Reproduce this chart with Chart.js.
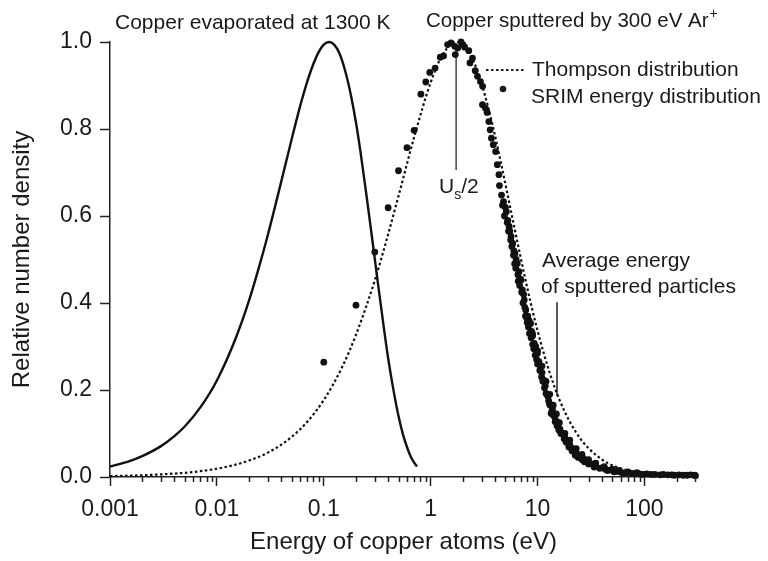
<!DOCTYPE html>
<html>
<head>
<meta charset="utf-8">
<script src="https://cdn.jsdelivr.net/npm/chart.js@4.4.1/dist/chart.umd.min.js"></script>
<style>
  html, body { margin: 0; padding: 0; background: #fff; }
  canvas { display: block; }
</style>
</head>
<body>
<canvas id="chart" width="768" height="561"></canvas>
<script>
// axis ticks
const xTickValues = [0.001, 0.01, 0.1, 1, 10, 100];
const xTickLabels = ['0.001', '0.01', '0.1', '1', '10', '100'];
const yTickValues = [0, 0.2, 0.4, 0.6, 0.8, 1.0];
const yTickLabels = ['0.0', '0.2', '0.4', '0.6', '0.8', '1.0'];

// Copper evaporated at 1300 K (solid line)
const evapEnergy = [0.001, 0.0015, 0.002, 0.003, 0.004, 0.005, 0.007, 0.01, 0.015, 0.02, 0.025, 0.03, 0.04, 0.05,
  0.06, 0.07, 0.08, 0.09, 0.1, 0.112, 0.125, 0.14, 0.16, 0.18, 0.2, 0.22, 0.25, 0.28, 0.32, 0.36, 0.4, 0.45,
  0.5, 0.55, 0.6, 0.65, 0.7, 0.745];
const evapDensity = [0.024, 0.036, 0.048, 0.071, 0.094, 0.116, 0.16, 0.222, 0.319, 0.406, 0.486, 0.557, 0.679, 0.776,
  0.852, 0.909, 0.95, 0.978, 0.994, 1.0, 0.994, 0.974, 0.93, 0.876, 0.815, 0.749, 0.65, 0.558, 0.448, 0.353, 0.273, 0.198,
  0.14, 0.098, 0.069, 0.047, 0.033, 0.024];

// Thompson distribution (dotted line)
const thompsonEnergy = [0.001, 0.002, 0.003, 0.005, 0.007, 0.01, 0.015, 0.02, 0.03, 0.05, 0.07, 0.1, 0.15, 0.2, 0.3,
  0.4, 0.5, 0.7, 1.0, 1.3, 1.75, 2.2, 2.7, 3.5, 4.5, 6, 8, 10, 13, 16, 20, 25, 30, 40, 50, 70, 100, 150, 200, 300];
const thompsonDensity = [0.002, 0.004, 0.006, 0.0096, 0.0134, 0.019, 0.0285, 0.038, 0.056, 0.092, 0.127, 0.177, 0.255,
  0.327, 0.452, 0.558, 0.646, 0.781, 0.907, 0.972, 1.0, 0.982, 0.937, 0.844, 0.727, 0.579, 0.435, 0.336, 0.239, 0.178,
  0.127, 0.089, 0.066, 0.040, 0.027, 0.0146, 0.0075, 0.0034, 0.002, 0.0009];

// SRIM energy distribution (dots), read point by point
const srimEnergy = [
  0.1, 0.2, 0.3, 0.4, 0.5, 0.6, 0.7, 0.81, 0.9, 0.98, 1.1, 1.23, 1.32, 1.44, 1.55, 1.68, 1.7, 1.79,
  1.92, 2.0, 2.08, 2.27, 2.33, 2.46, 2.61, 2.74, 2.92, 3.06, 3.05, 3.25, 3.37, 3.5, 3.6, 3.7, 3.85, 4.05, 4.2, 4.35,
  4.6, 4.8, 5.0, 5.1, 5.27, 5.42, 5.5, 5.65, 5.86, 6.0, 6.15, 6.3, 6.46, 6.7, 6.9, 7.0, 7.2, 7.4, 7.5, 7.75, 7.95,
  8.1, 8.3, 8.6, 8.8, 8.95, 9.3, 9.6, 9.95, 10.3, 10.7, 11.0, 11.4, 11.8, 12.0, 12.5, 12.9, 13.4, 13.8, 14.2, 14.6,
  15.2, 15.8, 16.5, 17.7, 18.5, 19.6, 21, 22.5, 24, 26, 27.4, 30, 33.8, 38, 45, 52, 63, 75, 97, 125, 165, 210, 250, 294,
  4.4, 4.7, 4.9, 5.2, 5.35, 5.6, 5.75, 5.95, 6.1, 6.25, 6.55, 6.6, 6.8, 7.1, 7.3, 7.6, 7.7, 8.0, 8.2, 8.4,
  8.7, 9.0, 9.2, 9.5, 9.8, 10.0, 10.5, 10.9, 11.2, 11.6, 12.2, 12.7, 13.1, 13.6, 14.0, 14.8, 15.5, 16.2, 17.0, 18.0,
  19.0, 20.0, 21.5, 23.0, 25, 27, 29, 32, 35, 40, 43, 48, 55, 60, 68, 80, 90, 105, 115, 140,
  150, 180, 190, 230, 270, 300,
  9.0, 10.0, 11.0, 12.0, 13.0, 14.0, 15.0, 16.0, 18, 20, 23, 26, 30, 35, 42, 50, 58, 70, 85];
const srimDensity = [
  0.264, 0.395, 0.517, 0.619, 0.704, 0.757, 0.797, 0.88, 0.908, 0.93, 0.94, 0.965, 0.968, 0.994, 0.998, 0.99, 0.971, 0.986,
  1.0, 0.994, 0.988, 0.98, 0.952, 0.963, 0.934, 0.921, 0.909, 0.898, 0.856, 0.848, 0.838, 0.817, 0.798, 0.779, 0.764, 0.748, 0.718, 0.695,
  0.648, 0.633, 0.62, 0.61, 0.59, 0.576, 0.565, 0.553, 0.537, 0.52, 0.514, 0.5, 0.491, 0.472, 0.455, 0.453, 0.43, 0.42, 0.407, 0.384, 0.365,
  0.37, 0.36, 0.353, 0.335, 0.33, 0.307, 0.3, 0.284, 0.265, 0.253, 0.24, 0.223, 0.21, 0.192, 0.185, 0.169, 0.146, 0.155, 0.14, 0.127,
  0.118, 0.108, 0.1, 0.088, 0.08, 0.069, 0.06, 0.05, 0.045, 0.04, 0.035, 0.03, 0.023, 0.02, 0.015, 0.012, 0.009, 0.008, 0.006, 0.006, 0.005, 0.005, 0.004, 0.004,
  0.67, 0.625, 0.6, 0.585, 0.565, 0.545, 0.53, 0.51, 0.49, 0.48, 0.465, 0.45, 0.44, 0.425, 0.4, 0.39, 0.37, 0.355, 0.345, 0.33,
  0.32, 0.305, 0.295, 0.28, 0.27, 0.26, 0.245, 0.23, 0.22, 0.205, 0.19, 0.175, 0.165, 0.15, 0.145, 0.13, 0.12, 0.11, 0.1, 0.09,
  0.082, 0.075, 0.065, 0.055, 0.048, 0.042, 0.036, 0.03, 0.026, 0.021, 0.018, 0.016, 0.013, 0.011, 0.01, 0.008, 0.007, 0.007, 0.006, 0.005,
  0.006, 0.005, 0.004, 0.004, 0.005, 0.003,
  0.325, 0.29, 0.255, 0.22, 0.19, 0.165, 0.145, 0.125, 0.1, 0.085, 0.065, 0.052, 0.04, 0.032, 0.024, 0.018, 0.015, 0.012, 0.01];

// marker lines: Us/2 and average energy
const usHalfEnergy = [1.73, 1.73];
const usHalfDensity = [0.706, 0.985];
const avgEnergy = [15.2, 15.2];
const avgDensity = [0.186, 0.402];

function pts(xs, ys) {
  return xs.map((x, i) => ({ x: x, y: ys[i] }));
}

const FONT = "'Liberation Sans', Arial, Helvetica, sans-serif";
Chart.defaults.font.family = FONT;
Chart.defaults.color = '#1a1a1a';

// short minor ticks on the log axis
const minorTicks = {
  id: 'minorTicks',
  afterDraw(chart) {
    const sc = chart.scales.x;
    const ctx = chart.ctx;
    ctx.save();
    ctx.strokeStyle = '#222';
    ctx.lineWidth = 1.5;
    ctx.beginPath();
    for (const d of xTickValues) {
      for (let k = 2; k <= 9; k++) {
        const v = k * d;
        if (v > sc.max) break;
        const px = Math.round(sc.getPixelForValue(v)) + 0.5;
        ctx.moveTo(px, sc.top);
        ctx.lineTo(px, sc.top + 5);
      }
    }
    ctx.stroke();
    ctx.restore();
  }
};

// text labels and legend
const notes = {
  id: 'notes',
  afterDraw(chart) {
    const ctx = chart.ctx;
    ctx.save();
    ctx.fillStyle = '#1a1a1a';
    ctx.textBaseline = 'middle';
    ctx.textAlign = 'left';
    ctx.font = '21px ' + FONT;
    ctx.fillText('Copper evaporated at 1300 K', 115, 23);

    ctx.font = '20.5px ' + FONT;
    let t = 'Copper sputtered by 300 eV Ar';
    ctx.fillText(t, 426, 21);
    let w = ctx.measureText(t).width;
    ctx.font = '14px ' + FONT;
    ctx.fillText('+', 426 + w + 1, 14);

    ctx.font = '21px ' + FONT;
    ctx.fillText('Thompson distribution', 532, 70);
    ctx.fillText('SRIM energy distribution', 531, 97);
    ctx.fillText('Average energy', 542, 261);
    ctx.fillText('of sputtered particles', 541, 287);

    // U_s/2
    ctx.fillText('U', 439, 187);
    w = ctx.measureText('U').width;
    ctx.font = '14px ' + FONT;
    ctx.fillText('s', 439 + w, 195);
    const ws = ctx.measureText('s').width;
    ctx.font = '21px ' + FONT;
    ctx.fillText('/2', 439 + w + ws, 187);

    // legend samples
    ctx.strokeStyle = '#1a1a1a';
    ctx.lineWidth = 2.2;
    ctx.setLineDash([2.5, 2.5]);
    ctx.beginPath();
    ctx.moveTo(486, 70);
    ctx.lineTo(525, 70);
    ctx.stroke();
    ctx.setLineDash([]);
    ctx.beginPath();
    ctx.arc(503, 89, 3.3, 0, Math.PI * 2);
    ctx.fill();
    ctx.restore();
  }
};

new Chart(document.getElementById('chart'), {
  type: 'scatter',
  data: {
    datasets: [
      {
        label: 'Copper evaporated at 1300 K',
        data: pts(evapEnergy, evapDensity),
        showLine: true,
        borderColor: '#111',
        borderWidth: 2.4,
        pointRadius: 0,
        cubicInterpolationMode: 'monotone',
        clip: false
      },
      {
        label: 'Thompson distribution',
        data: pts(thompsonEnergy, thompsonDensity),
        showLine: true,
        borderColor: '#111',
        borderWidth: 2.2,
        borderDash: [2.5, 2.5],
        pointRadius: 0,
        cubicInterpolationMode: 'monotone',
        clip: false
      },
      {
        label: 'SRIM energy distribution',
        data: pts(srimEnergy, srimDensity),
        showLine: false,
        pointRadius: 3.4,
        pointBackgroundColor: '#111',
        pointBorderWidth: 0,
        clip: false
      },
      {
        label: 'Us/2',
        data: pts(usHalfEnergy, usHalfDensity),
        showLine: true,
        borderColor: '#444',
        borderWidth: 1.5,
        pointRadius: 0
      },
      {
        label: 'Average energy',
        data: pts(avgEnergy, avgDensity),
        showLine: true,
        borderColor: '#222',
        borderWidth: 1.5,
        pointRadius: 0
      }
    ]
  },
  options: {
    responsive: false,
    animation: false,
    devicePixelRatio: 1,
    layout: { padding: { left: 0, right: 71, top: 42, bottom: 0 } },
    plugins: { legend: { display: false }, tooltip: { enabled: false } },
    scales: {
      x: {
        type: 'logarithmic',
        min: 0.001,
        max: 310,
        afterFit: (scale) => { scale.height = 84; },
        afterBuildTicks: (scale) => { scale.ticks = xTickValues.map(v => ({ value: v })); },
        ticks: {
          autoSkip: false,
          maxRotation: 0,
          padding: 10,
          color: '#1a1a1a',
          font: { size: 23 },
          callback: (v, i) => xTickLabels[i]
        },
        grid: {
          drawOnChartArea: false,
          drawTicks: true,
          tickLength: 9,
          tickColor: '#222',
          tickWidth: 1.5
        },
        border: { display: true, color: '#222', width: 1.5 },
        title: {
          display: true,
          text: 'Energy of copper atoms (eV)',
          color: '#1a1a1a',
          font: { size: 24 },
          padding: { top: 0, bottom: 4 }
        }
      },
      y: {
        min: 0,
        max: 1,
        afterFit: (scale) => { scale.width = 110; },
        afterBuildTicks: (scale) => { scale.ticks = yTickValues.map(v => ({ value: v })); },
        ticks: {
          padding: 8,
          color: '#1a1a1a',
          font: { size: 23 },
          callback: (v, i) => yTickLabels[i]
        },
        grid: {
          drawOnChartArea: false,
          drawTicks: true,
          tickLength: 10,
          tickColor: '#222',
          tickWidth: 1.5
        },
        border: { display: true, color: '#222', width: 1.5 },
        title: {
          display: true,
          text: 'Relative number density',
          color: '#1a1a1a',
          font: { size: 24 },
          padding: { top: 8, bottom: 0 }
        }
      }
    }
  },
  plugins: [minorTicks, notes]
});
</script>
</body>
</html>
